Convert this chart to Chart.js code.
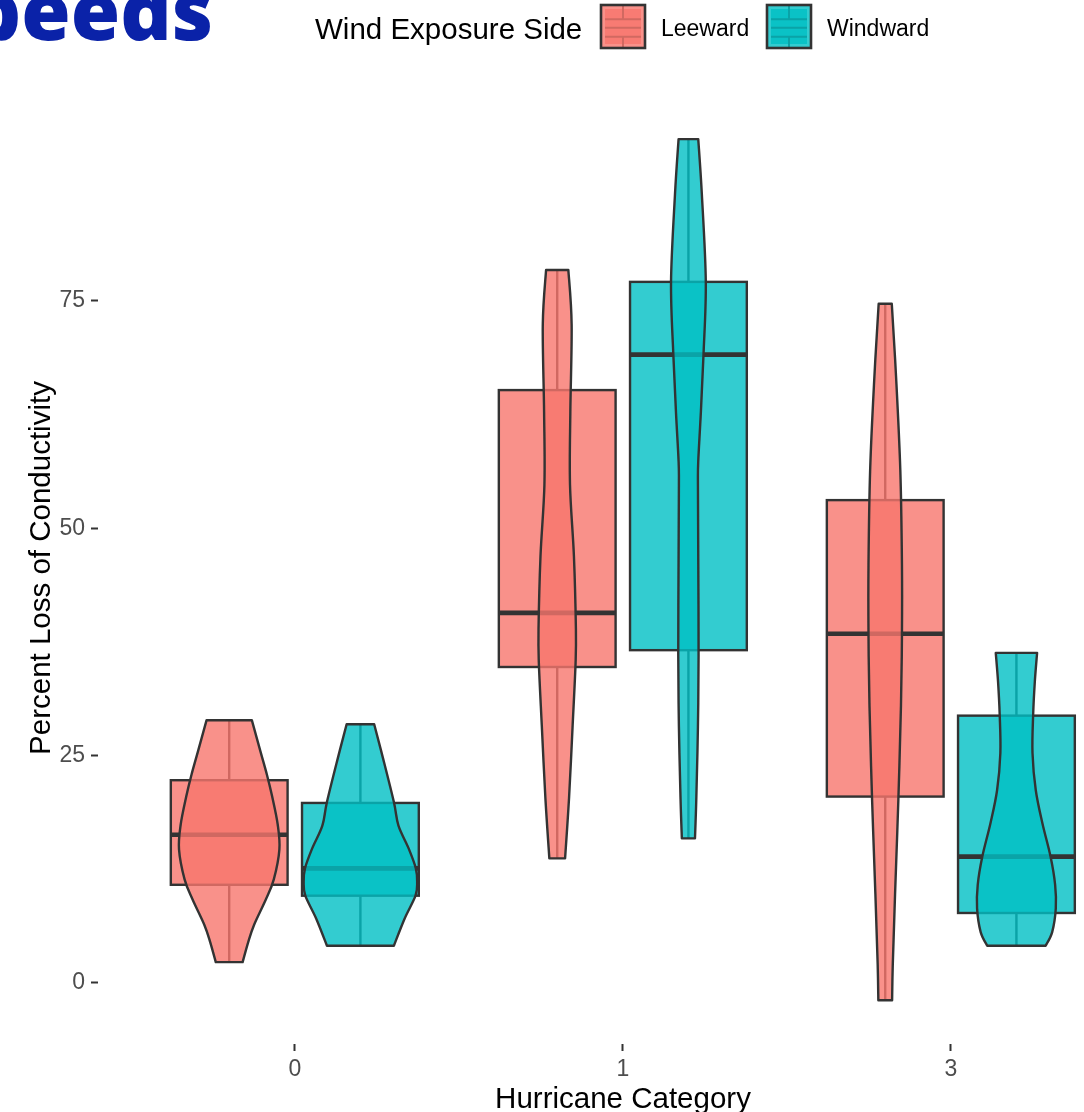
<!DOCTYPE html>
<html>
<head>
<meta charset="utf-8">
<title>Percent Loss of Conductivity by Hurricane Category</title>
<script src="https://cdn.jsdelivr.net/npm/chart.js@4.4.1/dist/chart.umd.min.js"></script>
<style>
  html, body { margin: 0; padding: 0; background: #ffffff; overflow: hidden; }
  #wrap { position: relative; width: 1084px; height: 1112px; }
  canvas { display: block; }
</style>
</head>
<body>
<div id="wrap"><canvas id="chart" width="1084" height="1112"></canvas></div>
<script>
// Hurricane categories on the x axis and the two exposure groups
const categories = ['0', '1', '3'];
const xPositions = [1, 2, 3];
const groups = ['Leeward', 'Windward'];
const yTicks = [0, 25, 50, 75];

// Box-plot statistics (percent loss of conductivity), one value per category
const leewardMin    = [2.3, 13.7, -1.9];
const leewardQ1     = [10.8, 34.75, 20.5];
const leewardMedian = [16.3, 40.7, 38.4];
const leewardQ3     = [22.3, 65.2, 53.1];
const leewardMax    = [28.9, 78.4, 74.7];

const windwardMin    = [4.1, 15.9, 4.1];
const windwardQ1     = [9.6, 36.6, 7.7];
const windwardMedian = [12.6, 69.1, 13.9];
const windwardQ3     = [19.8, 77.1, 29.4];
const windwardMax    = [28.45, 92.8, 36.3];

// Violin density profiles: evaluation levels and half-widths (x-axis units)
const leewardViolinLevels = [
  [2.3, 4.5, 6.4, 9.2, 11.4, 14.7, 17.4, 20.5, 22.9, 25.5, 28.9],
  [13.7, 20.3, 28.3, 35.2, 38.9, 46.9, 54.8, 62.8, 72.4, 78.4],
  [-1.9, 2.0, 9.8, 20.1, 30.5, 38.3, 46.0, 56.4, 66.7, 74.7]
];
const leewardViolinWidths = [
  [0.041, 0.058, 0.076, 0.112, 0.136, 0.153, 0.148, 0.131, 0.115, 0.095, 0.069],
  [0.024, 0.036, 0.047, 0.056, 0.057, 0.051, 0.039, 0.040, 0.044, 0.034],
  [0.021, 0.023, 0.030, 0.040, 0.048, 0.051, 0.051, 0.046, 0.033, 0.020]
];
const windwardViolinLevels = [
  [4.1, 7.1, 9.6, 11.1, 12.6, 14.8, 17.3, 19.9, 24.7, 28.45],
  [15.9, 20.2, 28.2, 36.1, 46.8, 54.8, 57.4, 62.8, 69.1, 77.1, 86.7, 92.8],
  [4.1, 5.6, 8.2, 10.8, 13.9, 17.6, 21.2, 25.3, 29.5, 33.1, 36.3]
];
const windwardViolinWidths = [
  [0.102, 0.135, 0.168, 0.173, 0.169, 0.147, 0.116, 0.102, 0.069, 0.042],
  [0.020, 0.024, 0.029, 0.031, 0.030, 0.029, 0.030, 0.038, 0.046, 0.053, 0.041, 0.030],
  [0.089, 0.109, 0.120, 0.118, 0.104, 0.079, 0.059, 0.049, 0.051, 0.056, 0.063]
];

// Styling
const groupRGB = { Leeward: [248, 118, 109], Windward: [0, 191, 196] };
const fillAlpha = 0.8;
const lineColor = '#333333';
const dodge = 0.2;       // group offset from the category position
const boxHalf = 0.178;   // half box width in x-axis units
const fontFamily = '"Liberation Sans", Arial, "DejaVu Sans", sans-serif';

const series = {
  Leeward: {
    min: leewardMin, q1: leewardQ1, median: leewardMedian, q3: leewardQ3, max: leewardMax,
    levels: leewardViolinLevels, widths: leewardViolinWidths, offset: -dodge
  },
  Windward: {
    min: windwardMin, q1: windwardQ1, median: windwardMedian, q3: windwardQ3, max: windwardMax,
    levels: windwardViolinLevels, widths: windwardViolinWidths, offset: dodge
  }
};

function rgba(rgb, a) { return 'rgba(' + rgb[0] + ',' + rgb[1] + ',' + rgb[2] + ',' + a + ')'; }
function blend(rgb, base, a) { return rgb.map((c, i) => Math.round(c * a + base[i] * (1 - a))); }
function css(rgb) { return 'rgb(' + rgb.join(',') + ')'; }

// Catmull-Rom curve through a list of pixel points
function splineThrough(ctx, pts) {
  for (let i = 0; i < pts.length - 1; i++) {
    const p0 = pts[i - 1] || pts[i], p1 = pts[i], p2 = pts[i + 1], p3 = pts[i + 2] || p2;
    ctx.bezierCurveTo(
      p1.x + (p2.x - p0.x) / 6, p1.y + (p2.y - p0.y) / 6,
      p2.x - (p3.x - p1.x) / 6, p2.y - (p3.y - p1.y) / 6,
      p2.x, p2.y);
  }
}

function drawBox(ctx, xs, ys, s, i, rgb) {
  const cx = xPositions[i] + s.offset;
  const xc = xs.getPixelForValue(cx);
  const left = xs.getPixelForValue(cx - boxHalf);
  const right = xs.getPixelForValue(cx + boxHalf);
  const t = ys.getPixelForValue(s.q3[i]);
  const b = ys.getPixelForValue(s.q1[i]);
  ctx.save();
  ctx.strokeStyle = lineColor;
  ctx.lineWidth = 2.4;
  ctx.lineCap = 'butt';
  // whiskers
  ctx.beginPath();
  ctx.moveTo(xc, t); ctx.lineTo(xc, ys.getPixelForValue(s.max[i]));
  ctx.moveTo(xc, b); ctx.lineTo(xc, ys.getPixelForValue(s.min[i]));
  ctx.stroke();
  // box body
  ctx.fillStyle = rgba(rgb, fillAlpha);
  ctx.fillRect(left, t, right - left, b - t);
  ctx.strokeRect(left, t, right - left, b - t);
  // median
  const m = ys.getPixelForValue(s.median[i]);
  ctx.lineWidth = 4.6;
  ctx.beginPath();
  ctx.moveTo(left, m); ctx.lineTo(right, m);
  ctx.stroke();
  ctx.restore();
}

function drawViolin(ctx, xs, ys, s, i, rgb) {
  const cx = xPositions[i] + s.offset;
  const lv = s.levels[i], wd = s.widths[i];
  const rightPts = lv.map((v, k) => ({ x: xs.getPixelForValue(cx + wd[k]), y: ys.getPixelForValue(v) }));
  const leftPts = lv.map((v, k) => ({ x: xs.getPixelForValue(cx - wd[k]), y: ys.getPixelForValue(v) })).reverse();
  ctx.save();
  ctx.beginPath();
  ctx.moveTo(rightPts[0].x, rightPts[0].y);
  splineThrough(ctx, rightPts);
  ctx.lineTo(leftPts[0].x, leftPts[0].y);
  splineThrough(ctx, leftPts);
  ctx.closePath();
  ctx.fillStyle = rgba(rgb, fillAlpha);
  ctx.fill();
  ctx.strokeStyle = lineColor;
  ctx.lineWidth = 2.4;
  ctx.lineJoin = 'round';
  ctx.stroke();
  ctx.restore();
}

// Legend key: box glyph under a violin glyph, as in the plot panel
function drawKey(ctx, x, y, w, h, rgb) {
  const white = [255, 255, 255];
  const light = blend(rgb, white, fillAlpha);
  const dark = blend(rgb, light, fillAlpha);
  const dim = blend(rgb, [51, 51, 51], fillAlpha);
  ctx.save();
  ctx.fillStyle = css(light);
  ctx.fillRect(x, y, w, h);
  ctx.fillStyle = css(dark);
  ctx.fillRect(x + 4, y + 4, w - 8, h - 8);
  ctx.strokeStyle = css(dim);
  ctx.lineWidth = 2;
  const xc = x + w / 2;
  const yTop = y + h * 0.33, yMed = y + h * 0.53, yBot = y + h * 0.74;
  ctx.beginPath();
  [yTop, yMed, yBot].forEach(yy => { ctx.moveTo(x + 4, yy); ctx.lineTo(x + w - 4, yy); });
  ctx.moveTo(xc, y + 1); ctx.lineTo(xc, yTop);
  ctx.moveTo(xc, yBot); ctx.lineTo(xc, y + h - 1);
  ctx.stroke();
  ctx.strokeStyle = lineColor;
  ctx.lineWidth = 2.6;
  ctx.strokeRect(x, y, w, h);
  ctx.restore();
}

const boxViolinPlugin = {
  id: 'boxViolin',
  beforeDatasetsDraw(chart) {
    const ctx = chart.ctx, xs = chart.scales.x, ys = chart.scales.y;
    groups.forEach(g => categories.forEach((c, i) => drawBox(ctx, xs, ys, series[g], i, groupRGB[g])));
    groups.forEach(g => categories.forEach((c, i) => drawViolin(ctx, xs, ys, series[g], i, groupRGB[g])));
  },
  afterDraw(chart) {
    const ctx = chart.ctx;
    ctx.save();
    // header text running off the top-left corner
    ctx.fillStyle = '#0A22A8';
    ctx.font = '800 80px "Open Sans", "DejaVu Sans", sans-serif';
    ctx.textAlign = 'right';
    ctx.textBaseline = 'alphabetic';
    ctx.fillText('Speeds', 213, 40);

    // axis titles
    ctx.fillStyle = '#000000';
    ctx.font = '29.5px ' + fontFamily;
    ctx.textAlign = 'center';
    ctx.fillText('Hurricane Category', 623, 1108);
    ctx.save();
    ctx.translate(50, 568);
    ctx.rotate(-Math.PI / 2);
    ctx.fillText('Percent Loss of Conductivity', 0, 0);
    ctx.restore();

    // legend
    ctx.textAlign = 'left';
    ctx.fillText('Wind Exposure Side', 315, 38.5);
    drawKey(ctx, 601, 5, 44, 43, groupRGB.Leeward);
    drawKey(ctx, 767, 5, 44, 43, groupRGB.Windward);
    ctx.font = '23px ' + fontFamily;
    ctx.fillStyle = '#000000';
    ctx.fillText(groups[0], 661, 36);
    ctx.fillText(groups[1], 827, 36);
    ctx.restore();
  }
};

const tickFont = { family: fontFamily, size: 23 };

new Chart(document.getElementById('chart'), {
  type: 'scatter',
  data: {
    datasets: groups.map(g => ({ label: g, data: [], pointRadius: 0 }))
  },
  options: {
    responsive: false,
    animation: false,
    events: [],
    layout: { padding: { top: 96, right: 0, bottom: 0, left: 0 } },
    plugins: { legend: { display: false }, tooltip: { enabled: false } },
    scales: {
      x: {
        type: 'linear',
        min: 0.4,
        max: 3.406,
        afterBuildTicks: s => { s.ticks = xPositions.map(v => ({ value: v })); },
        afterFit: s => { s.height = 68; },
        grid: { drawOnChartArea: false, drawTicks: true, tickLength: 7, tickColor: '#333333', tickWidth: 2 },
        border: { display: false },
        ticks: {
          padding: 5, color: '#4D4D4D', font: tickFont, autoSkip: false, maxRotation: 0,
          callback: v => { const k = xPositions.indexOf(v); return k >= 0 ? categories[k] : ''; }
        }
      },
      y: {
        type: 'linear',
        min: -6.708,
        max: 97.54,
        afterBuildTicks: s => { s.ticks = yTicks.map(v => ({ value: v })); },
        afterFit: s => { s.width = 98; },
        grid: { drawOnChartArea: false, drawTicks: true, tickLength: 7, tickColor: '#333333', tickWidth: 2 },
        border: { display: false },
        ticks: { padding: 6, color: '#4D4D4D', font: tickFont, callback: v => String(v) }
      }
    }
  },
  plugins: [boxViolinPlugin]
});
</script>
</body>
</html>
